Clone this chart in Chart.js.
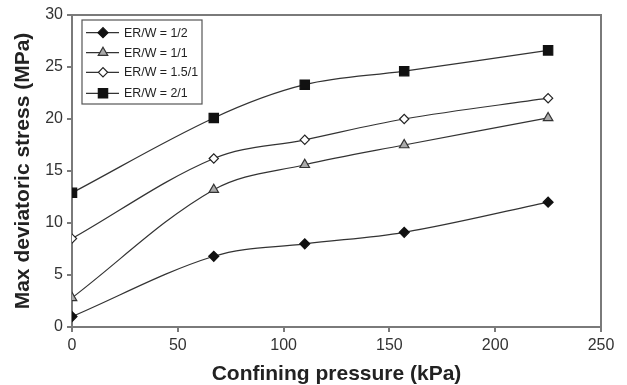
<!DOCTYPE html>
<html>
<head>
<meta charset="utf-8">
<script src="https://cdn.jsdelivr.net/npm/chart.js@4/dist/chart.umd.min.js"></script>
<style>
  html, body { margin: 0; padding: 0; background: #fff; }
  #wrap { position: relative; width: 627px; height: 385px; }
</style>
</head>
<body>
<div id="wrap"><canvas id="c" width="627" height="385"></canvas></div>
<script>
// Data
const confiningPressure = [0, 67, 110, 157, 225];
const seriesNames = ["ER/W = 1/2", "ER/W = 1/1", "ER/W = 1.5/1", "ER/W = 2/1"];
const erw_1_2   = [1.0, 6.8, 8.0, 9.1, 12.0];
const erw_1_1   = [2.8, 13.2, 15.6, 17.5, 20.1];
const erw_1_5_1 = [8.5, 16.2, 18.0, 20.0, 22.0];
const erw_2_1   = [12.9, 20.1, 23.3, 24.6, 26.6];
const xTicks = [0, 50, 100, 150, 200, 250];
const yTicks = [0, 5, 10, 15, 20, 25, 30];
const xTitle = "Confining pressure (kPa)";
const yTitle = "Max deviatoric stress (MPa)";

const pts = arr => confiningPressure.map((x, i) => ({ x: x, y: arr[i] }));

const styles = [
  { pointStyle: 'rectRot',  radius: 5,   bg: '#111', border: '#111' },
  { pointStyle: 'triangle', radius: 5.5, bg: '#aaa', border: '#333' },
  { pointStyle: 'rectRot',  radius: 4.6, bg: '#fff', border: '#222' },
  { pointStyle: 'rect',     radius: 6.6, bg: '#111', border: '#111' }
];
const allData = [erw_1_2, erw_1_1, erw_1_5_1, erw_2_1];

const datasets = allData.map((arr, i) => ({
  label: seriesNames[i],
  data: pts(arr),
  borderColor: '#333',
  borderWidth: 1.2,
  tension: 0.35,
  pointStyle: styles[i].pointStyle,
  pointRadius: styles[i].radius,
  pointBackgroundColor: styles[i].bg,
  pointBorderColor: styles[i].border,
  pointBorderWidth: 1.2,
  fill: false
}));

const frameAndLegend = {
  id: 'frameAndLegend',
  afterDatasetsDraw(chart) {
    const { ctx, chartArea } = chart;
    ctx.save();
    // top and right frame
    ctx.strokeStyle = '#7a7a7a';
    ctx.lineWidth = 2;
    ctx.beginPath();
    ctx.moveTo(chartArea.left, chartArea.top);
    ctx.lineTo(chartArea.right, chartArea.top);
    ctx.lineTo(chartArea.right, chartArea.bottom);
    ctx.stroke();
    // legend box
    const bx = chartArea.left + 10, by = chartArea.top + 5, bw = 120, bh = 84;
    ctx.fillStyle = '#fff';
    ctx.fillRect(bx, by, bw, bh);
    ctx.strokeStyle = '#555';
    ctx.lineWidth = 1.2;
    ctx.strokeRect(bx, by, bw, bh);
    const rows = [by + 12.7, by + 32.7, by + 52.3, by + 73.3];
    chart.data.datasets.forEach((ds, i) => {
      const y = rows[i];
      ctx.strokeStyle = '#333';
      ctx.lineWidth = 1.2;
      ctx.beginPath();
      ctx.moveTo(bx + 4, y);
      ctx.lineTo(bx + 37, y);
      ctx.stroke();
      ctx.fillStyle = ds.pointBackgroundColor;
      ctx.strokeStyle = ds.pointBorderColor;
      ctx.lineWidth = 1.2;
      Chart.helpers.drawPoint(ctx, { pointStyle: ds.pointStyle, radius: ds.pointRadius, borderWidth: 1.2 }, bx + 21, y);
      ctx.fillStyle = '#222';
      ctx.font = '12.4px "Liberation Sans", Arial, sans-serif';
      ctx.textBaseline = 'middle';
      ctx.textAlign = 'left';
      ctx.fillText(ds.label, bx + 42, y + 0.5);
    });
    ctx.restore();
  }
};

new Chart(document.getElementById('c'), {
  type: 'line',
  data: { datasets: datasets },
  options: {
    responsive: false,
    animation: false,
    layout: { padding: { top: 15, right: 26, left: 0, bottom: 0 } },
    plugins: { legend: { display: false }, tooltip: { enabled: false } },
    scales: {
      x: {
        type: 'linear',
        min: 0, max: 250,
        afterBuildTicks: s => { s.ticks = xTicks.map(v => ({ value: v })); },
        afterFit: s => { s.height = 58; },
        border: { display: true, color: '#7a7a7a', width: 2 },
        grid: { display: true, drawOnChartArea: false, drawTicks: true, tickLength: 5, color: '#7a7a7a', lineWidth: 2 },
        ticks: { color: '#333', padding: 4, maxRotation: 0, font: { family: '"Liberation Sans", Arial, sans-serif', size: 16 } },
        title: { display: true, text: xTitle, color: '#222', padding: { top: 0, bottom: 0 },
                 font: { family: '"Liberation Sans", Arial, sans-serif', size: 21, weight: 'bold', lineHeight: 1.0 } }
      },
      y: {
        type: 'linear',
        min: 0, max: 30,
        afterBuildTicks: s => { s.ticks = yTicks.map(v => ({ value: v })); },
        afterFit: s => { s.width = 72; },
        border: { display: true, color: '#7a7a7a', width: 2 },
        grid: { display: true, drawOnChartArea: false, drawTicks: true, tickLength: 5, color: '#7a7a7a', lineWidth: 2 },
        ticks: { color: '#333', padding: 4, font: { family: '"Liberation Sans", Arial, sans-serif', size: 16 } },
        title: { display: true, text: yTitle, color: '#222', padding: { top: 11, bottom: 0 },
                 font: { family: '"Liberation Sans", Arial, sans-serif', size: 21, weight: 'bold' } }
      }
    }
  },
  plugins: [frameAndLegend]
});
</script>
</body>
</html>
